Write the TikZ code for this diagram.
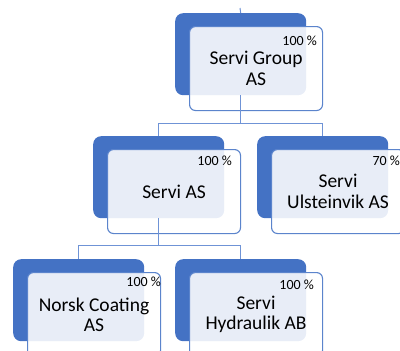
\documentclass[tikz,border=0pt]{standalone}
\usepackage{fontspec}
\setmainfont{Carlito}
\usepackage{tikz}
\usetikzlibrary{positioning}

\definecolor{boxblue}{HTML}{4472C4}
\definecolor{frameblue}{HTML}{5B84CC}
\definecolor{linkblue}{HTML}{6F93D6}

\begin{document}
\begin{tikzpicture}[x=1pt,y=-1pt,
  back/.style={fill=boxblue,rounded corners=8pt,minimum width=131pt,minimum height=82pt,inner sep=0pt,anchor=north west},
  front/.style={draw=frameblue,line width=1.1pt,fill=white,fill opacity=0.88,text opacity=1,rounded corners=6pt,
    minimum width=133pt,minimum height=84pt,inner sep=0pt,align=center,anchor=north west,
    font=\fontsize{19.5}{20.5}\selectfont},
  pct/.style={inner sep=0pt,anchor=east,font=\fontsize{14}{14}\selectfont},
  link/.style={draw=linkblue,line width=1pt}]

\useasboundingbox (0,0) rectangle (400,351);

% back boxes
\node[back] (sgB) at (175,13)  {};
\node[back] (saB) at (93,136)  {};
\node[back] (suB) at (257,136) {};
\node[back] (ncB) at (13,259)  {};
\node[back] (shB) at (175,259) {};

% front boxes
\node[front] (sg) at ([shift={(14,13)}]sgB.north west) {Servi Group\\AS};
\node[front] (sa) at ([shift={(14,13)}]saB.north west) {Servi AS};
\node[front] (su) at ([shift={(14,13)}]suB.north west) {Servi\\Ulsteinvik AS};
\node[front] (nc) at ([shift={(14,13)}]ncB.north west) {Norsk Coating\\AS};
\node[front] (sh) at ([shift={(14,13)}]shB.north west) {Servi\\Hydraulik AB};

% shares
\node[pct] (sgP) at ([shift={(-6,15)}]sg.north east) {100 \%};
\node[pct] (saP) at ([shift={(-9,12)}]sa.north east) {100 \%};
\node[pct] (suP) at ([shift={(-5,12)}]su.north east) {70 \%};
\node[pct] (ncP) at ([shift={(0,10)}]nc.north east)  {100 \%};
\node[pct] (shP) at ([shift={(-9,13)}]sh.north east) {100 \%};

\coordinate (up) at (240,8);

\draw[link] (up) -- (sgB.north);
\draw[link] (sgB.south) -- ++(0,28) -| (saB.north);
\draw[link] (sgB.south) -- ++(0,28) -| (suB.north);
\draw[link] (saB.south) -- ++(0,27) -| (ncB.north);
\draw[link] (saB.south) -- ++(0,27) -| (shB.north);
\end{tikzpicture}
\end{document}
